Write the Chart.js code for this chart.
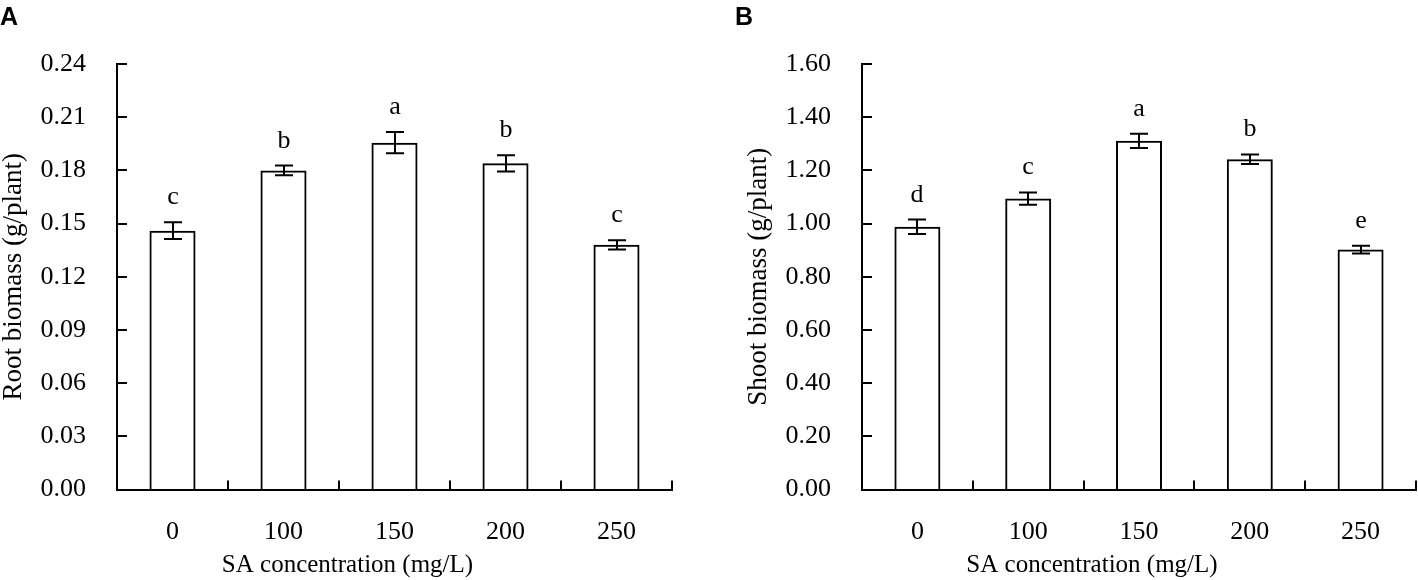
<!DOCTYPE html>
<html>
<head>
<meta charset="utf-8">
<script src="https://cdn.jsdelivr.net/npm/chart.js@4.4.1/dist/chart.umd.min.js"></script>
<style>
  html, body { margin: 0; padding: 0; background: #fff; }
  #wrap { position: relative; width: 1418px; height: 580px; overflow: hidden; }
  .panel { position: absolute; top: 0; width: 709px; height: 580px; }
  .tag { position: absolute; top: 2px; font: bold 25px "Liberation Sans", Arial, sans-serif; color: #000; }
</style>
</head>
<body>
<div id="wrap">
  <div class="panel" style="left:0"><canvas id="cA" width="709" height="580"></canvas></div>
  <div class="panel" style="left:709px"><canvas id="cB" width="709" height="580"></canvas></div>
  <div class="tag" style="left:0px">A</div>
  <div class="tag" style="left:735px">B</div>
</div>
<script>
const categories = ['0', '100', '150', '200', '250'];

const rootMeans   = [0.146, 0.180, 0.1956, 0.184, 0.138];
const rootErrors  = [0.0047, 0.0027, 0.006, 0.0046, 0.0026];
const rootLetters = ['c', 'b', 'a', 'b', 'c'];

const shootMeans   = [0.988, 1.094, 1.311, 1.242, 0.902];
const shootErrors  = [0.027, 0.023, 0.027, 0.018, 0.015];
const shootLetters = ['d', 'c', 'a', 'b', 'e'];

const rootTicks  = { min: 0, max: 0.24, step: 0.03 };
const shootTicks = { min: 0, max: 1.60, step: 0.20 };

const xTitle = 'SA concentration (mg/L)';

const SERIF = '"Liberation Serif", "Times New Roman", serif';

const decoPlugin = {
  id: 'deco',
  afterDatasetsDraw(chart, args, opts) {
    const ctx = chart.ctx;
    const xs = chart.scales.x, ys = chart.scales.y;
    ctx.save();
    ctx.strokeStyle = '#000';
    ctx.lineWidth = 2;
    ctx.lineCap = 'butt';
    // inward y ticks
    ys.ticks.forEach(t => {
      const py = Math.round(ys.getPixelForValue(t.value));
      ctx.beginPath();
      ctx.moveTo(xs.left, py);
      ctx.lineTo(xs.left + 10, py);
      ctx.stroke();
    });
    // inward x ticks at category boundaries
    for (let i = 1; i <= categories.length; i++) {
      const px = Math.round(xs.getPixelForValue(i - 0.5));
      ctx.beginPath();
      ctx.moveTo(px, ys.bottom);
      ctx.lineTo(px, ys.bottom - 9);
      ctx.stroke();
    }
    // error bars and letters
    const means = opts.means, errs = opts.errors, letters = opts.letters;
    ctx.fillStyle = '#000';
    ctx.font = '26px ' + SERIF;
    ctx.textAlign = 'center';
    ctx.textBaseline = 'alphabetic';
    for (let i = 0; i < means.length; i++) {
      const cx = Math.round(xs.getPixelForValue(i));
      const top = ys.getPixelForValue(means[i] + errs[i]);
      const bot = ys.getPixelForValue(means[i] - errs[i]);
      ctx.beginPath();
      ctx.moveTo(cx, top); ctx.lineTo(cx, bot);
      ctx.moveTo(cx - 9, top); ctx.lineTo(cx + 9, top);
      ctx.moveTo(cx - 9, bot); ctx.lineTo(cx + 9, bot);
      ctx.stroke();
      ctx.fillText(letters[i], cx, top - 18);
    }
    // x axis title (sits left of centre in the original figure)
    ctx.font = '25px ' + SERIF;
    ctx.textBaseline = 'middle';
    ctx.fillText(xTitle, (xs.left + xs.right) / 2 - 47, 565);
    ctx.restore();
  }
};

function makeChart(id, means, errors, letters, tk, yTitle, padLeft, padRight) {
  return new Chart(document.getElementById(id), {
    type: 'bar',
    data: {
      labels: categories,
      datasets: [{
        data: means,
        backgroundColor: 'rgba(0,0,0,0)',
        borderColor: '#000',
        borderWidth: 2,
        borderSkipped: 'start',
        barPercentage: 0.415,
        categoryPercentage: 1.0
      }]
    },
    options: {
      responsive: false,
      animation: false,
      devicePixelRatio: 1,
      layout: { padding: { top: 64, left: padLeft, right: padRight, bottom: 0 } },
      plugins: {
        legend: { display: false },
        tooltip: { enabled: false },
        deco: { means: means, errors: errors, letters: letters }
      },
      scales: {
        x: {
          grid: { display: false, drawTicks: false },
          border: { display: true, color: '#000', width: 2 },
          ticks: { color: '#000', font: { family: SERIF, size: 26 }, padding: 27, maxRotation: 0 },
          title: { display: false },
          afterFit(scale) { scale.height = 90.5; }
        },
        y: {
          min: tk.min, max: tk.max,
          grid: { display: false, drawTicks: false },
          border: { display: true, color: '#000', width: 2 },
          ticks: {
            stepSize: tk.step, autoSkip: false, color: '#000', padding: 31,
            font: { family: SERIF, size: 26 },
            callback: v => Number(v).toFixed(2)
          },
          title: { display: true, text: yTitle, color: '#000',
                   font: { family: SERIF, size: 27, lineHeight: 1.0 }, padding: { top: 0, bottom: 0 } },
          afterFit(scale) { scale.width = 117; }
        }
      }
    },
    plugins: [decoPlugin]
  });
}

makeChart('cA', rootMeans, rootErrors, rootLetters, rootTicks, 'Root biomass (g/plant)', 0, 37);
makeChart('cB', shootMeans, shootErrors, shootLetters, shootTicks, 'Shoot biomass (g/plant)', 36, 2);
</script>
</body>
</html>
